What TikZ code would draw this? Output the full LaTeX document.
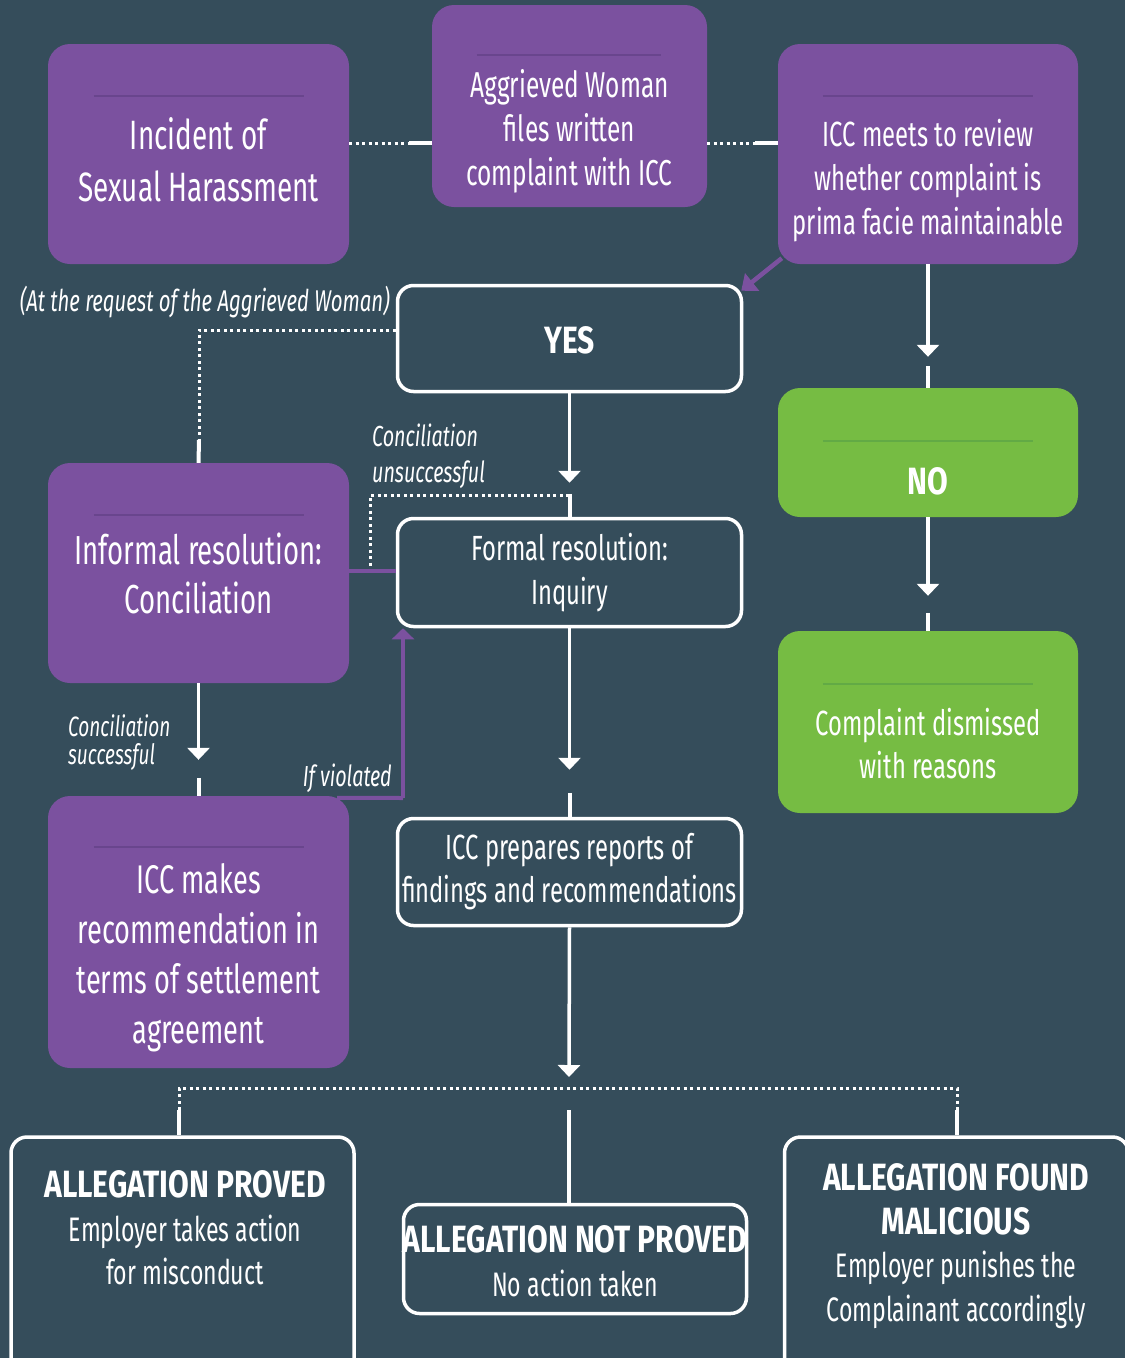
\documentclass[tikz,border=0pt]{standalone}
\usepackage{fontspec}
\setmainfont{Fira Sans}[FakeStretch=0.68]
\newfontfamily\bcond{Fira Sans}[FakeStretch=0.79]
\usetikzlibrary{arrows.meta,calc}
\definecolor{bg}{HTML}{354D5B}
\definecolor{pur}{HTML}{7B519F}
\definecolor{pursep}{HTML}{69458D}
\definecolor{grn}{HTML}{76BC43}
\definecolor{grnsep}{HTML}{62AA45}
\newcommand\fs[2]{\fontsize{#1}{#2}\selectfont}
\newcommand\hd[1]{{\bcond\bfseries\fs{38}{43.5}#1}}
\begin{document}
\begin{tikzpicture}[x=1pt,y=-1pt,
  pbox/.style={fill=pur,rounded corners=22pt,inner sep=0pt},
  gbox/.style={fill=grn,rounded corners=22pt,inner sep=0pt},
  wbox/.style={draw=white,line width=3.5pt,rounded corners=16pt,inner sep=0pt},
  psep/.style={draw=pursep,line width=1.5pt},
  gsep/.style={draw=grnsep,line width=1.5pt},
  t/.style={text=white,align=center,inner sep=0pt},
  dots/.style={draw=white,line width=3pt,dash pattern=on 3pt off 3.5pt},
  solid line/.style={draw=white,line width=4pt},
  arr/.style={draw=white,line width=3.5pt,-{Triangle[width=22pt,length=12pt]}},
  parr/.style={draw=pur,line width=4.5pt,-{Triangle[width=22pt,length=14pt]}},
  pline/.style={draw=pur,line width=4pt},
  lab/.style={text=white,align=left,inner sep=0pt,font=\itshape}
]
\clip (0,0) rectangle (1125,1358);
\fill[bg] (0,0) rectangle (1125,1358);

% purple boxes
\node[pbox,minimum width=301pt,minimum height=220pt] (inc) at (198.5,154) {};
\draw[psep] ($(inc.north west)+(46,52)$) -- ($(inc.north east)+(-45,52)$);
\node[t,font=\fs{41}{52}] (inct) at (198.5,160) {Incident of\\Sexual Harassment};

\node[pbox,minimum width=275pt,minimum height=202pt] (agg) at (569.5,106) {};
\draw[psep] ($(agg.north west)+(45,50)$) -- ($(agg.north east)+(-46,50)$);
\node[t,font=\fs{36}{44}] (aggt) at (569.5,131) {Aggrieved Woman\\files written\\complaint with ICC};

\node[pbox,minimum width=300pt,minimum height=220pt] (meets) at (928,154) {};
\draw[psep] ($(meets.north west)+(45,52)$) -- ($(meets.north east)+(-45,52)$);
\node[t,font=\fs{35}{44}] (meetst) at (928,181) {ICC meets to review\\whether complaint is\\prima facie maintainable};

\node[pbox,minimum width=301pt,minimum height=220pt] (inf) at (198.5,573) {};
\draw[psep] ($(inf.north west)+(46,52)$) -- ($(inf.north east)+(-45,52)$);
\node[t,font=\fs{40.5}{49}] (inft) at (198.5,573) {Informal resolution:\\Conciliation};

\node[pbox,minimum width=301pt,minimum height=272pt] (makes) at (198.5,932) {};
\draw[psep] ($(makes.north west)+(46,51)$) -- ($(makes.north east)+(-45,51)$);
\node[t,font=\fs{40}{50}] (makest) at (198.5,958) {ICC makes\\recommendation in\\terms of settlement\\agreement};

% green boxes
\node[gbox,minimum width=300pt,minimum height=129pt] (no) at (928,452.5) {};
\draw[gsep] ($(no.north west)+(45,53)$) -- ($(no.north east)+(-45,53)$);
\node[t,font=\fs{38}{44}\bcond\bfseries] (not) at (928,481) {NO};

\node[gbox,minimum width=300pt,minimum height=182pt] (comp) at (928,722) {};
\draw[gsep] ($(comp.north west)+(45,53)$) -- ($(comp.north east)+(-45,53)$);
\node[t,font=\fs{35}{43}] (compt) at (928,744) {Complaint dismissed\\with reasons};

% white boxes
\node[wbox,minimum width=344pt,minimum height=106pt] (yes) at (569.5,338.5) {};
\node[t,font=\fs{38}{44}\bcond\bfseries] (yest) at (569.5,340) {YES};

\node[wbox,minimum width=344pt,minimum height=108pt] (form) at (569.5,572.5) {};
\node[t,font=\fs{35}{44}] (formt) at (569.5,573) {Formal resolution:\\Inquiry};

\node[wbox,minimum width=344pt,minimum height=107pt] (prep) at (569.5,872) {};
\node[t,font=\fs{35}{43}] (prept) at (569.5,872) {ICC prepares reports of\\findings and recommendations};

\node[wbox,minimum width=343pt,minimum height=280pt] (ap) at (182.5,1277) {};
\node[t,font=\fs{34}{43.5}] (apt) at (185,1228) {\hd{ALLEGATION PROVED}\\Employer takes action\\for misconduct};

\node[wbox,minimum width=343pt,minimum height=109pt] (anp) at (575,1259) {};
\node[t,font=\fs{34}{44}] (anpt) at (575,1261) {\hd{ALLEGATION NOT PROVED}\\No action taken};

\node[wbox,minimum width=344pt,minimum height=280pt] (am) at (956.5,1277) {};
\node[t,font=\fs{34}{43.5}] (amt) at (956,1246) {\hd{ALLEGATION FOUND}\\\hd{MALICIOUS}\\Employer punishes the\\Complainant accordingly};

% top connectors
\coordinate (c1) at (409,143);
\draw[dots] (inc.east |- c1) -- (c1);
\draw[solid line] (c1) -- (agg.west |- c1);
\coordinate (c2) at (755,143);
\draw[dots] (agg.east |- c2) -- (c2);
\draw[solid line] (c2) -- (meets.west |- c2);

% meets -> yes
\draw[parr] ($(meets.south west)+(4,-6)$) -- ($(yes.north east)+(-2,7)$);

% meets -> no
\draw[arr] (meets.south) -- ($(no.north)+(0,-31)$);
\draw[solid line] ($(no.north)+(0,-22)$) -- (no.north);
% no -> complaint
\draw[arr] (no.south) -- ($(comp.north)+(0,-35)$);
\draw[solid line] ($(comp.north)+(0,-18)$) -- (comp.north);

% yes -> formal
\draw[arr] (yes.south) -- ($(form.north)+(0,-34)$);
\draw[solid line] ($(form.north)+(0,-23)$) -- (form.north);

% yes -> informal (dotted)
\coordinate (d1) at (199,330);
\coordinate (d2) at (199,440);
\draw[dots] (yes.west |- d1) -- (d1) -- (d2);
\draw[solid line] (d2) -- (inf.north);
\node[lab,font=\fs{30}{34}\itshape,anchor=east] (req) at (390,302) {(At the request of the Aggrieved Woman)};

% conciliation unsuccessful dotted
\coordinate (u1) at (569,495);
\coordinate (u2) at (370,495);
\coordinate (u3) at (370,571);
\draw[dots] (u1) -- (u2) -- (u3);
\node[lab,font=\fs{29}{36}\itshape,anchor=north west] (unsucc) at (372,424) {Conciliation\\unsuccessful};

% informal -- formal
\draw[pline] (inf.east |- u3) -- (form.west |- u3);

% formal -> prepares
\draw[arr] (form.south) -- ($(prep.north)+(0,-47)$);
\draw[solid line] ($(prep.north)+(0,-24)$) -- (prep.north);

% informal -> makes
\draw[arr] (inf.south) -- ($(makes.north)+(0,-36)$);
\draw[solid line] ($(makes.north)+(0,-18)$) -- (makes.north);
\node[lab,font=\fs{28}{28}\itshape,anchor=north west] (succ) at (68,714) {Conciliation\\successful};

% makes -> formal (if violated)
\coordinate (v1) at (403,798);
\draw[pline] ($(makes.north east)+(-12,2)$) -- (v1);
\draw[draw=pur,line width=4pt,-{Triangle[width=22pt,length=11pt]}] (v1) -- (v1 |- form.south);
\node[lab,font=\fs{29}{34}\itshape,anchor=east] (viol) at (392,778) {If violated};

% prepares -> outcomes
\draw[arr] (prep.south) -- (569,1077);
\coordinate (h1) at (179,1088);
\coordinate (h2) at (957,1088);
\coordinate (h1b) at (179,1110);
\coordinate (h2b) at (957,1110);
\draw[dots] (h1b) -- (h1) -- (h2) -- (h2b);
\draw[solid line] (h1b) -- (h1b |- ap.north);
\draw[solid line] (h2b) -- (h2b |- am.north);
\coordinate (m1) at (569,1110);
\draw[solid line] (m1) -- (m1 |- anp.north);
\end{tikzpicture}
\end{document}
